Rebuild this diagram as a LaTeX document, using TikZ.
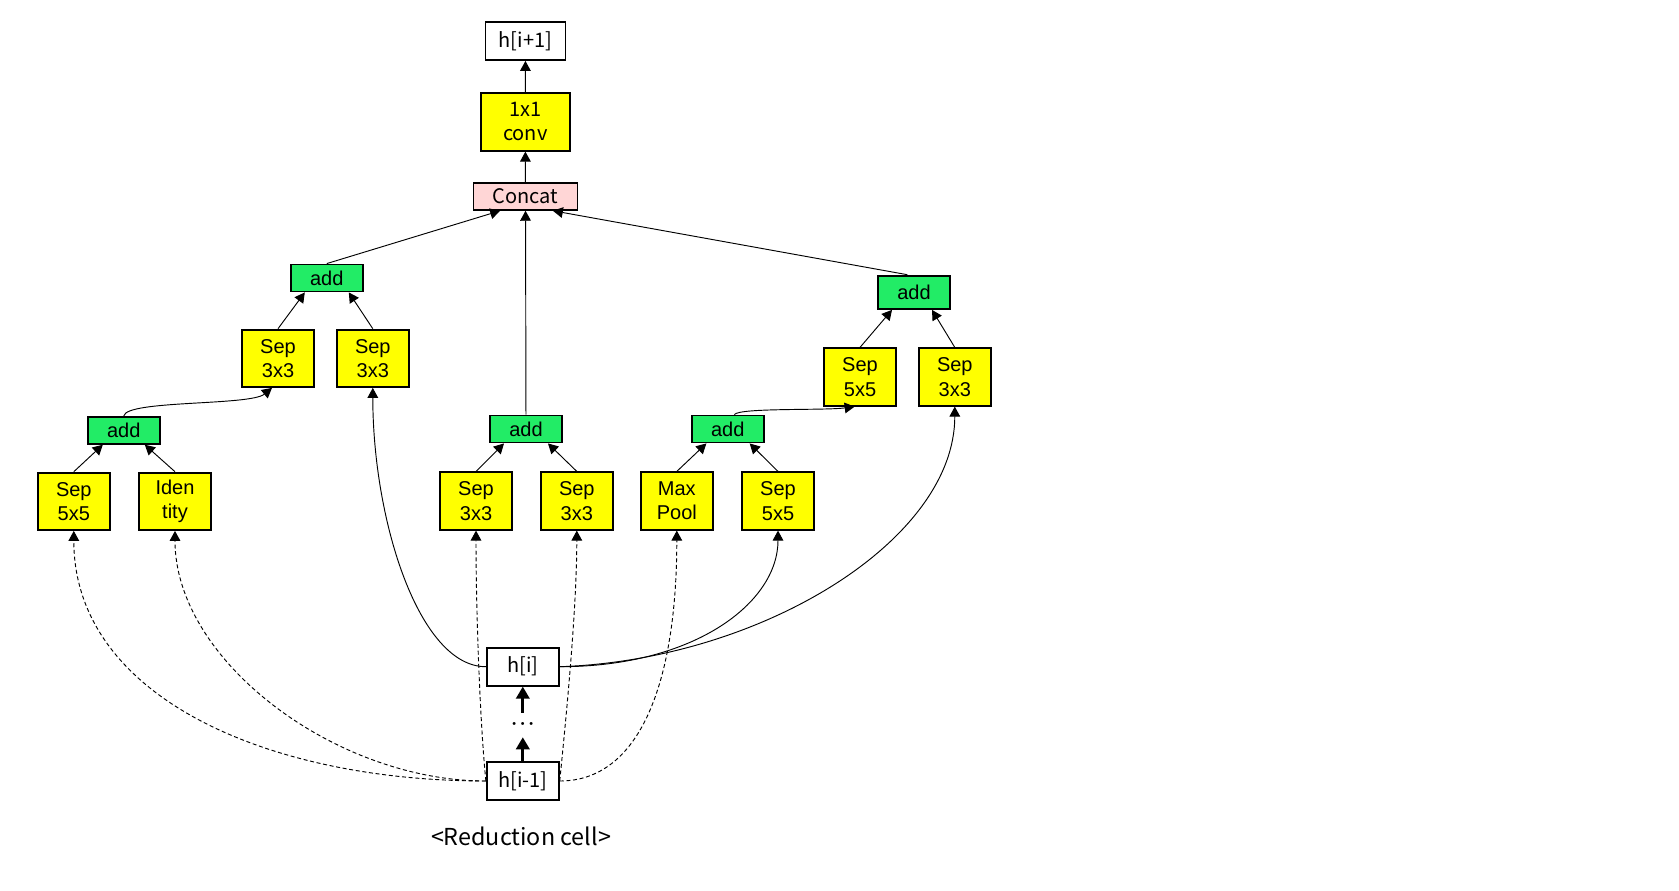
\documentclass[tikz,border=0pt]{standalone}
\usepackage{fontspec}
\setmainfont{Liberation Sans}
\newfontfamily\krfont{Noto Sans CJK KR}
\usepackage{tikz}
\usetikzlibrary{arrows.meta}

\definecolor{opyellow}{RGB}{255,255,0}
\definecolor{addgreen}{RGB}{34,236,102}
\definecolor{catpink}{RGB}{255,214,214}

\begin{document}
\begin{tikzpicture}[x=0.75pt,y=0.75pt,yscale=-1,xscale=1,
  box/.style={draw,line width=1.4pt,inner sep=0pt,align=center,font=\fontsize{15}{18.2}\selectfont},
  op/.style={box,fill=opyellow,minimum width=54pt,minimum height=43pt},
  addbox/.style={box,fill=addgreen,minimum width=54pt,minimum height=20.25pt},
  hbox/.style={box,fill=white,minimum width=54pt,minimum height=28.5pt,font=\krfont\fontsize{15}{18}\selectfont},
  link/.style={line width=0.7pt,-{Triangle[length=7.5pt,width=8pt]}},
  skip/.style={link,dash pattern=on 3pt off 2pt},
  chain/.style={line width=2pt,-{Triangle[length=9pt,width=10pt]}}]
        \useasboundingbox (0,0) rectangle (1679,890);
        % output side
        \node [hbox,minimum width=60pt] (hnext) at (525.5,41) {h[i+1]};
        \node [op,minimum width=66.75pt,minimum height=43.5pt,font=\krfont\fontsize{15}{18}\selectfont] (conv) at (525.3,121.7) {1x1\\conv};
        \node [box,fill=catpink,minimum width=78pt,minimum height=20.25pt,font=\krfont\fontsize{15}{18}\selectfont] (concat) at (525.5,196.3) {Concat};
        % left branch
        \node [addbox] (addTL) at (326.8,278) {add};
        \node [op] (sepTL1) at (278,358.3) {Sep\\3x3};
        \node [op] (sepTL2) at (372.8,358.3) {Sep\\3x3};
        \node [addbox] (addLL) at (123.8,430.3) {add};
        \node [op] (sepLL) at (73.8,501.3) {Sep\\5x5};
        \node [op] (idLL) at (175,501.3) {Iden\\tity};
        % middle branch
        \node [addbox] (addM) at (526,429) {add};
        \node [op] (sepM1) at (476,501) {Sep\\3x3};
        \node [op] (sepM2) at (576.8,501) {Sep\\3x3};
        % right branch
        \node [addbox] (addR) at (727.7,429) {add};
        \node [op] (poolR) at (676.8,501) {Max\\Pool};
        \node [op] (sepR) at (778,501) {Sep\\5x5};
        \node [addbox,minimum height=25pt] (addTR) at (914,292.3) {add};
        \node [op] (sepTR1) at (860,377) {Sep\\5x5};
        \node [op] (sepTR2) at (954.8,377) {Sep\\3x3};
        % inputs
        \node [hbox] (hcur) at (522.8,666.7) {h[i]};
        \node [inner sep=0pt,minimum height=18pt,font=\fontsize{8}{8}\selectfont] (dots) at (522.8,725) {\textbullet\hspace{3.6pt}\textbullet\hspace{3.6pt}\textbullet};
        \node [hbox] (hprev) at (522.8,781) {h[i-1]};
        \node [font=\krfont\fontsize{17.5}{20}\selectfont] (title) at (521,836) {<Reduction cell>};

        \draw [link] (conv) -- (hnext);
        \draw [link] (concat) -- (conv);
        \draw [link] (addTL.north) -- ([xshift=-19pt]concat.south);
        \draw [link] (addM) -- (concat);
        \draw [link] ([xshift=-5pt]addTR.north) -- ([xshift=20.5pt]concat.south);

        \draw [link] (sepTL1.north) -- ([xshift=-16.5pt]addTL.south);
        \draw [link] (sepTL2.north) -- ([xshift=16.5pt]addTL.south);
        \draw [link] (sepLL.north) -- ([xshift=-15.75pt]addLL.south);
        \draw [link] (idLL.north) -- ([xshift=15.75pt]addLL.south);
        \draw [link] (sepM1.north) -- ([xshift=-16.5pt]addM.south);
        \draw [link] (sepM2.north) -- ([xshift=16.5pt]addM.south);
        \draw [link] (poolR.north) -- ([xshift=-16pt]addR.south);
        \draw [link] (sepR.north) -- ([xshift=16.5pt]addR.south);
        \draw [link] (sepTR1.north) -- ([xshift=-16.5pt]addTR.south);
        \draw [link] (sepTR2.north) -- ([xshift=13.5pt]addTR.south);

        \draw [link] (addLL.north) .. controls +(3,-16) and +(-22,18) .. ([xshift=-4.5pt]sepTL1.south);
        \draw [link] ([xshift=5pt]addR.north) .. controls +(5,-7) and +(-30,4) .. ([xshift=-4pt]sepTR1.south);

        % h[i]
        \draw [link] (hcur.west) .. controls +(-66.7,0) and +(0,133) .. (sepTL2.south);
        \draw [link] (hcur.east) .. controls +(135,0) and +(0,72) .. (sepR.south);
        \draw [link] (hcur.east) .. controls +(201,-6.7) and +(0,134) .. (sepTR2.south);

        % h[i-1]
        \draw [skip] (hprev.west) .. controls +(-220,0) and +(0,165) .. (sepLL.south);
        \draw [skip] (hprev.west) .. controls +(-150,0) and +(0,130) .. (idLL.south);
        \draw [skip] (hprev.west) .. controls +(-6,-60) and +(0,80) .. (sepM1.south);
        \draw [skip] (hprev.east) .. controls +(6,-60) and +(0,80) .. (sepM2.south);
        \draw [skip] (hprev.east) .. controls +(81,0) and +(0,150) .. (poolR.south);

        \draw [chain] (hprev) -- (dots);
        \draw [chain] (dots) -- (hcur);
    \end{tikzpicture}
\end{document}
